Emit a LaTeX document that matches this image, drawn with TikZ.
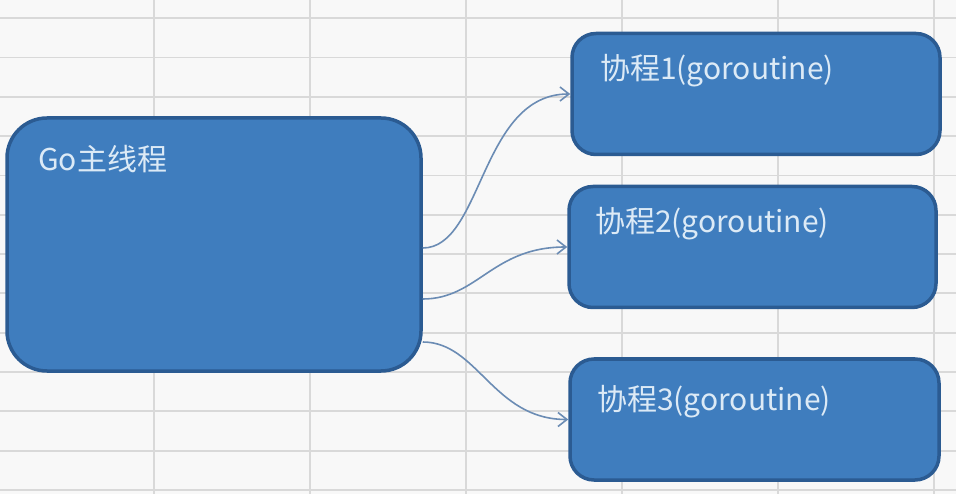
\documentclass[tikz,border=0pt]{standalone}
\usepackage{fontspec}
\setmainfont{Noto Sans CJK SC}
\usetikzlibrary{arrows.meta}
\definecolor{bg}{HTML}{F8F8F8}
\definecolor{gridc}{HTML}{D9D9D9}
\definecolor{boxfill}{HTML}{3F7DBE}
\definecolor{boxline}{HTML}{2B5B92}
\definecolor{txt}{HTML}{DCEAF6}
\definecolor{arrcol}{HTML}{6B8CB4}
\tikzset{
  mainbox/.style={draw=boxline, fill=boxfill, line width=3.5pt, rounded corners=40pt,
    minimum width=414pt, minimum height=253pt, inner sep=0pt},
  subbox/.style={draw=boxline, fill=boxfill, line width=3.5pt, rounded corners=24pt,
    minimum height=121pt, inner sep=0pt},
  lbl/.style={anchor=base west, text=txt, font=\fontsize{30}{36}\selectfont, inner sep=0pt},
  arr/.style={draw=arrcol, line width=1.6pt, -{Straight Barb[length=9pt,width=14pt]}},
  gridline/.style={draw=gridc, line width=1.8pt}
}
\begin{document}
\begin{tikzpicture}[x=1pt,y=-1pt]
\useasboundingbox (0,0) rectangle (956,494);
\fill[bg] (0,0) rectangle (956,494);
% spreadsheet grid
\foreach \gx in {154,310,466,622,778,934} \draw[gridline] (\gx,0) -- (\gx,494);
\foreach \k in {0,...,12} \draw[gridline] (0,18.3+39.3*\k) -- (956,18.3+39.3*\k);
% boxes
\node[mainbox] (main) at (214,244.5) {};
\node[subbox, minimum width=368pt] (b1) at (756,94) {};
\node[subbox, minimum width=367pt] (b2) at (752.5,247) {};
\node[subbox, minimum width=369pt] (b3) at (754.5,419.5) {};
% labels
\node[lbl] (tmain) at (38,171) {Go主线程};
\node[lbl] (t1) at (600,80) {协程1(goroutine)};
\node[lbl] (t2) at (595,233) {协程2(goroutine)};
\node[lbl] (t3) at (597,410) {协程3(goroutine)};
% connectors
\draw[arr] ([yshift=-3.5pt]main.east) .. controls +(60,0) and +(-90,0) .. (b1.west);
\draw[arr] ([yshift=-54.5pt]main.east) .. controls +(55,0) and +(-75,0) .. (b2.west);
\draw[arr] ([yshift=-97.5pt]main.east) .. controls +(55,0) and +(-75,0) .. (b3.west);
\end{tikzpicture}
\end{document}
